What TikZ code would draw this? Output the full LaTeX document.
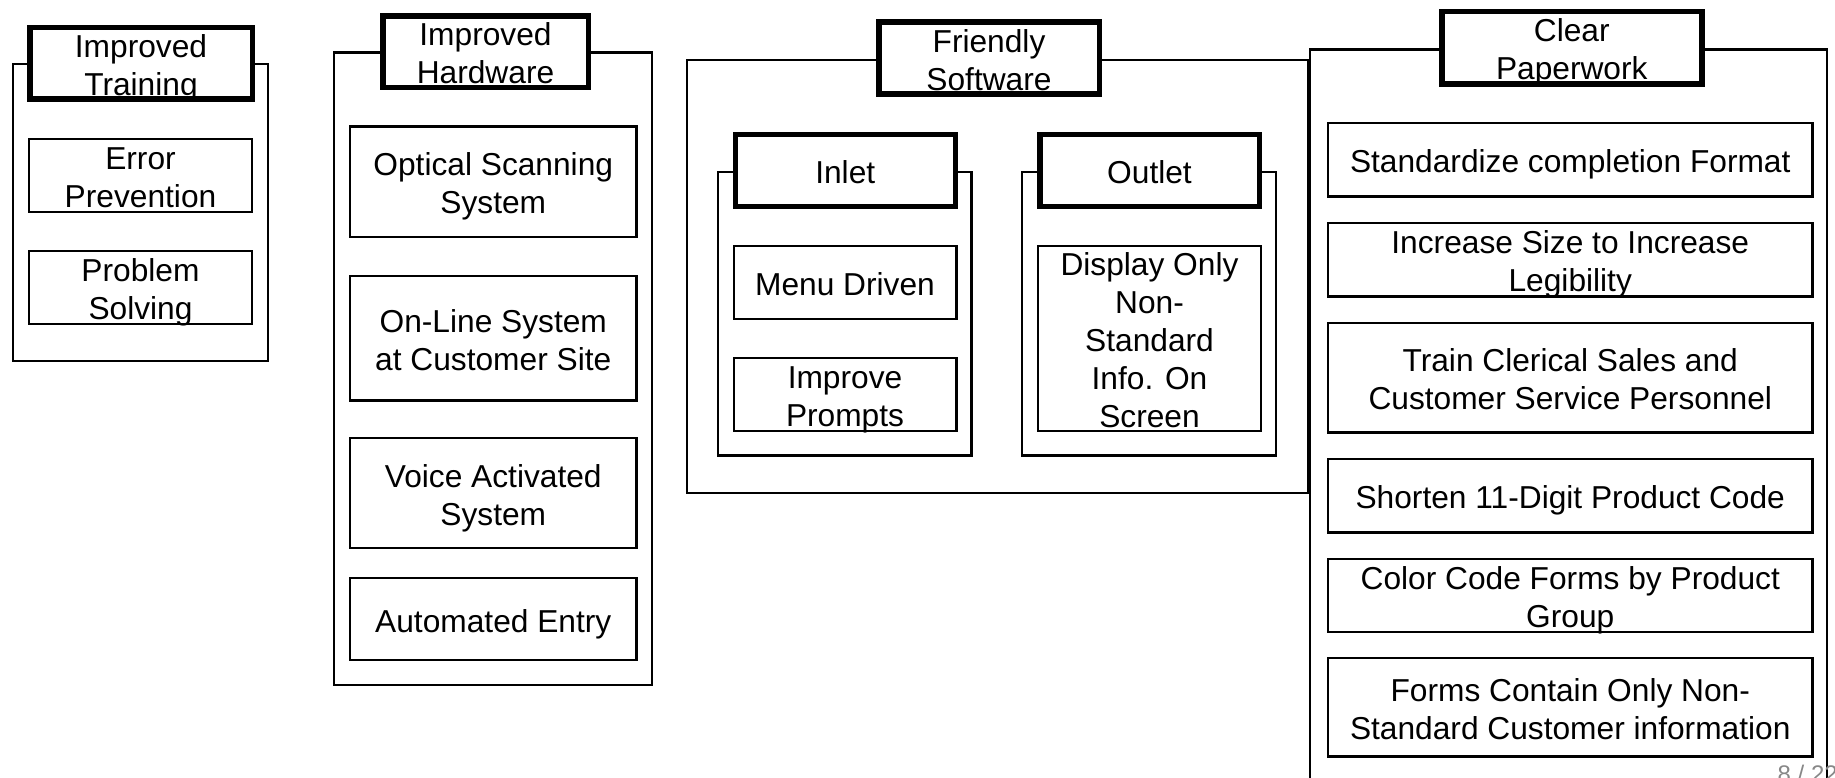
\documentclass[tikz,border=0pt]{standalone}
\usepackage{fontspec}
\setmainfont{Liberation Sans}
\newcommand\lowstrut{\rule[-7pt]{0pt}{7pt}}
\newcommand\topstrut{\rule{0pt}{33pt}}
\begin{document}
\begin{tikzpicture}[x=1pt,y=-1pt,
  frame/.style={draw=black,line width=2.4pt,rectangle,inner sep=0pt},
  boxtext/.style={align=center,font=\fontsize{31.7}{38}\selectfont,inner xsep=0pt,inner ysep=-20pt},
  itembox/.style={draw=black,line width=2.4pt,rectangle,fill=white,boxtext},
  titlebox/.style={draw=black,line width=5.5pt,rectangle,fill=white,boxtext},
  pagenum/.style={text=black!47,inner sep=0pt,font=\fontsize{24}{28}\selectfont}]
\useasboundingbox (0,0) rectangle (1835,778);
\clip (0,0) rectangle (1835,778);
% ---- Improved Training
\node[frame,minimum width=254.6pt,minimum height=296.6pt] (trainframe) at (140.5,212.5) {};
\node[titlebox,minimum width=222.5pt,minimum height=71.5pt] (train) at (141,63.5) {\topstrut Improved\\Training\lowstrut};
\node[itembox,minimum width=222.6pt,minimum height=72.6pt] (error) at (140.5,175.5) {\topstrut Error\\Prevention\lowstrut};
\node[itembox,minimum width=222.6pt,minimum height=72.6pt] (problem) at (140.5,287.5) {\topstrut Problem\\Solving\lowstrut};
% ---- Improved Hardware
\node[frame,minimum width=317.6pt,minimum height=632.1pt] (hwframe) at (493,368.75) {};
\node[titlebox,minimum width=205.5pt,minimum height=71.5pt] (hw) at (485.5,52) {\topstrut Improved\\Hardware\lowstrut};
\node[itembox,minimum width=286.1pt,minimum height=110.1pt] (optical) at (493.25,181.75) {\topstrut Optical Scanning\\System\lowstrut};
\node[itembox,minimum width=286.1pt,minimum height=124.1pt] (online) at (493.25,338.25) {\topstrut On-Line System\\at Customer Site\lowstrut};
\node[itembox,minimum width=286.1pt,minimum height=109.6pt] (voice) at (493.25,493) {\topstrut Voice Activated\\System\lowstrut};
\node[itembox,minimum width=286.1pt,minimum height=81.6pt] (auto) at (493.25,619) {\topstrut Automated Entry\lowstrut};
% ---- Friendly Software
\node[frame,minimum width=621.1pt,minimum height=432.6pt] (swframe) at (997.25,276.5) {};
\node[titlebox,minimum width=220.5pt,minimum height=72pt] (sw) at (989,58.25) {\topstrut Friendly\\Software\lowstrut};
\node[frame,minimum width=253.6pt,minimum height=283.1pt] (inframe) at (844.5,313.75) {};
\node[titlebox,minimum width=220pt,minimum height=71.5pt] (inlet) at (845.25,170.5) {\topstrut Inlet\lowstrut};
\node[itembox,minimum width=222.6pt,minimum height=72.6pt] (menu) at (845,282.5) {\topstrut Menu Driven\lowstrut};
\node[itembox,minimum width=222.6pt,minimum height=72.6pt] (prompts) at (845,394.5) {\topstrut Improve\\Prompts\lowstrut};
\node[frame,minimum width=254.1pt,minimum height=283.1pt] (outframe) at (1148.75,313.75) {};
\node[titlebox,minimum width=219.5pt,minimum height=71.5pt] (outlet) at (1149.5,170.5) {\topstrut Outlet\lowstrut};
\node[itembox,minimum width=222.6pt,minimum height=184.6pt] (display) at (1149.5,338.5) {\topstrut Display Only\\Non-\\Standard\\Info. On\\Screen\lowstrut};
% ---- Clear Paperwork
\node[frame,minimum width=516.6pt,minimum height=749.1pt] (cpframe) at (1568.5,424.25) {};
\node[titlebox,minimum width=260pt,minimum height=72.5pt] (cp) at (1571.75,48) {\topstrut Clear\\Paperwork\lowstrut};
\node[itembox,minimum width=484.1pt,minimum height=73.1pt] (std) at (1570.25,159.75) {\topstrut Standardize completion Format\lowstrut};
\node[itembox,minimum width=484.1pt,minimum height=73.1pt] (size) at (1570.25,259.75) {\topstrut Increase Size to Increase\\Legibility\lowstrut};
\node[itembox,minimum width=484.1pt,minimum height=109.6pt] (clerical) at (1570.25,377.5) {\topstrut Train Clerical Sales and\\Customer Service Personnel\lowstrut};
\node[itembox,minimum width=484.1pt,minimum height=73.1pt] (shorten) at (1570.25,495.75) {\topstrut Shorten 11-Digit Product Code\lowstrut};
\node[itembox,minimum width=484.1pt,minimum height=73.1pt] (color) at (1570.25,595.25) {\topstrut Color Code Forms by Product\\Group\lowstrut};
\node[itembox,minimum width=484.1pt,minimum height=98.1pt] (forms) at (1570.25,707.25) {\topstrut Forms Contain Only Non-\\Standard Customer information\lowstrut};
% ---- page number
\node[pagenum,anchor=base west] (page) at (1777.5,782) {8 / 22};
\end{tikzpicture}
\end{document}
